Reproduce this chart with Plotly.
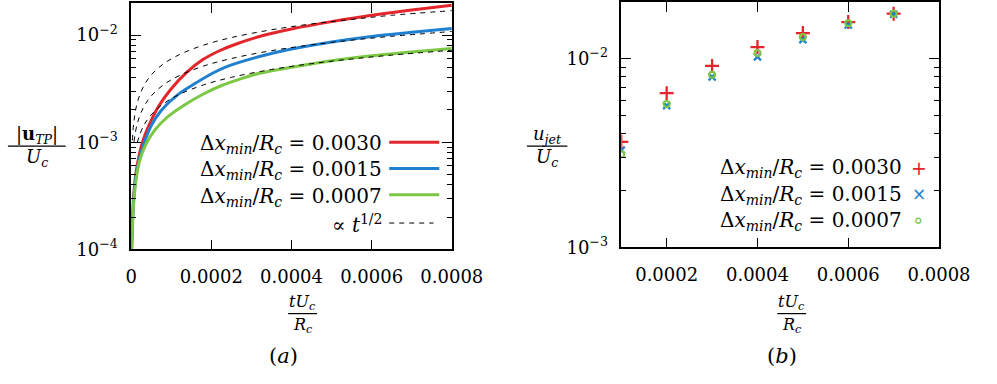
import plotly.graph_objects as go
from plotly.subplots import make_subplots

# ---- panel (a): |u_TP|/U_c vs tU_c/R_c ----
t_red = [1e-6, 3e-6, 6e-6, 1.2e-5, 2.0e-5, 3.0e-5, 4.3e-5, 6.7e-5, 9.9e-5, 1.39e-4,
         1.79e-4, 2.19e-4, 2.64e-4, 3.2e-4, 4.0e-4, 5.0e-4, 6.0e-4, 7.0e-4, 8.0e-4]
u_red = [1.0e-4, 1.8e-4, 3.0e-4, 5.2e-4, 7.6e-4, 1.05e-3, 1.40e-3, 2.12e-3, 3.12e-3, 4.5e-3,
         5.9e-3, 7.1e-3, 8.3e-3, 9.7e-3, 1.14e-2, 1.335e-2, 1.53e-2, 1.71e-2, 1.90e-2]

t_blue = [1e-6, 3e-6, 6e-6, 1.2e-5, 2.0e-5, 2.7e-5, 5.1e-5, 7.5e-5, 1.15e-4, 1.55e-4,
          2.03e-4, 2.4e-4, 3.2e-4, 4.0e-4, 5.0e-4, 6.0e-4, 7.0e-4, 8.0e-4]
u_blue = [1.0e-4, 1.7e-4, 2.8e-4, 4.8e-4, 6.8e-4, 8.6e-4, 1.45e-3, 1.98e-3, 2.75e-3, 3.45e-3,
          4.4e-3, 5.1e-3, 6.3e-3, 7.4e-3, 8.6e-3, 9.7e-3, 1.06e-2, 1.15e-2]

t_green = [1e-6, 3e-6, 6e-6, 1.2e-5, 2.0e-5, 3.5e-5, 5.9e-5, 9.1e-5, 1.31e-4, 1.79e-4,
           2.27e-4, 2.64e-4, 3.2e-4, 4.0e-4, 5.0e-4, 6.0e-4, 7.0e-4, 8.0e-4]
u_green = [1.0e-4, 1.6e-4, 2.6e-4, 4.4e-4, 6.5e-4, 9.3e-4, 1.3e-3, 1.72e-3, 2.2e-3, 2.8e-3,
           3.4e-3, 3.8e-3, 4.4e-3, 5.0e-3, 5.75e-3, 6.4e-3, 6.95e-3, 7.5e-3]

# t^(1/2) guide lines
t_fit = [3e-6, 7e-6, 1.5e-5, 3e-5, 5e-5, 8e-5, 1.2e-4, 1.8e-4, 2.5e-4, 3.5e-4, 4.5e-4,
         5.5e-4, 6.5e-4, 8e-4]
fit_red = [1.04e-3, 1.59e-3, 2.32e-3, 3.28e-3, 4.24e-3, 5.36e-3, 6.56e-3, 8.04e-3, 9.47e-3,
           1.12e-2, 1.27e-2, 1.40e-2, 1.53e-2, 1.69e-2]
fit_blue = [None, 1.01e-3, 1.48e-3, 2.09e-3, 2.70e-3, 3.42e-3, 4.18e-3, 5.13e-3, 6.04e-3,
            7.15e-3, 8.10e-3, 8.96e-3, 9.74e-3, 1.08e-2]
fit_green = [None, None, 0.99e-3, 1.40e-3, 1.80e-3, 2.28e-3, 2.79e-3, 3.42e-3, 4.03e-3,
             4.77e-3, 5.41e-3, 5.98e-3, 6.50e-3, 7.21e-3]

# ---- panel (b): u_jet/U_c at sampled times ----
t_jet = [0.0001, 0.0002, 0.0003, 0.0004, 0.0005, 0.0006, 0.0007]
jet_red = [0.00362, 0.00655, 0.00913, 0.01148, 0.01362, 0.01557, 0.01726]
jet_blue = [0.00327, 0.00563, 0.00798, 0.0102, 0.01257, 0.01503, 0.01714]
jet_green = [0.00311, 0.00574, 0.0082, 0.0107, 0.01298, 0.01534, 0.01726]

labels = ["0.0030", "0.0015", "0.0007"]
RED, BLUE, GREEN = "#e3262b", "#2080d0", "#7cc744"
FONT = "DejaVu Serif"
W, H = 997, 384


def px(x):
    return x / W


def py(y):
    return 1 - y / H


fig = make_subplots(rows=1, cols=2)

for t, u, c in [(t_red, u_red, RED), (t_blue, u_blue, BLUE), (t_green, u_green, GREEN)]:
    fig.add_trace(go.Scatter(x=t, y=u, mode="lines", line=dict(color=c, width=3, shape="spline", smoothing=1),
                             showlegend=False), row=1, col=1)
for f in [fit_red, fit_blue, fit_green]:
    fig.add_trace(go.Scatter(x=t_fit, y=f, mode="lines",
                             line=dict(color="black", width=1, dash="5px,5px", shape="spline"),
                             showlegend=False), row=1, col=1)

fig.add_trace(go.Scatter(x=t_jet, y=jet_red, mode="markers", showlegend=False,
                         marker=dict(symbol="cross-thin", size=10, line=dict(color=RED, width=2.3))),
              row=1, col=2)
fig.add_trace(go.Scatter(x=t_jet, y=jet_blue, mode="markers", showlegend=False,
                         marker=dict(symbol="x-thin", size=7, line=dict(color=BLUE, width=2.3))),
              row=1, col=2)
fig.add_trace(go.Scatter(x=t_jet, y=jet_green, mode="markers", showlegend=False,
                         marker=dict(symbol="circle-open", size=6, color=GREEN, line=dict(color=GREEN, width=2))),
              row=1, col=2)

minor_vals = [m * 10 ** e for e in (-4, -3, -2) for m in range(2, 10)]
ax_common = dict(showline=True, linecolor="black", linewidth=1.5, mirror="ticks", ticks="inside",
                 ticklen=10, tickwidth=1.2, tickcolor="black", showgrid=False, zeroline=False,
                 tickfont=dict(family=FONT, size=18, color="black"))

fig.update_xaxes(**ax_common, ticklabelstandoff=10)
fig.update_yaxes(**ax_common, ticklabelstandoff=8)
fig.update_yaxes(type="log", minor=dict(ticks="inside", ticklen=5, tickcolor="black", tickvals=minor_vals))

fig.update_layout(
    width=W, height=H, margin=dict(l=0, r=0, t=0, b=0),
    plot_bgcolor="white", paper_bgcolor="white", showlegend=False,
    xaxis=dict(domain=[px(130), px(463)], range=[0, 0.0008],
               tickvals=[0, 0.0002, 0.0004, 0.0006, 0.0008],
               ticktext=["0", "0.0002", "0.0004", "0.0006", "0.0008"]),
    yaxis=dict(domain=[py(256), py(3)], range=[-4, -1.7],
               tickvals=[1e-4, 1e-3, 1e-2], ticktext=["10<sup>−4</sup>", "10<sup>−3</sup>", "10<sup>−2</sup>"]),
    xaxis2=dict(domain=[px(639), px(969)], range=[0.0001, 0.0008],
                tickvals=[0.0002, 0.0004, 0.0006, 0.0008],
                ticktext=["0.0002", "0.0004", "0.0006", "0.0008"]),
    yaxis2=dict(domain=[py(254), py(2)], range=[-3, -1.701],
                tickvals=[1e-3, 1e-2], ticktext=["10<sup>−3</sup>", "10<sup>−2</sup>"]),
)

ann = []
shapes = []


def text(x, y, s, size=18, anchor="center"):
    ann.append(dict(x=px(x), y=py(y), xref="paper", yref="paper", text=s, showarrow=False,
                    xanchor=anchor, yanchor="middle", font=dict(family=FONT, size=size, color="black")))


def frac(xc, yline, num, den, half, size=18):
    text(xc, yline - 11, num, size)
    text(xc, yline + 12, den, size)
    shapes.append(dict(type="line", xref="paper", yref="paper", x0=px(xc - half), x1=px(xc + half),
                       y0=py(yline), y1=py(yline), line=dict(color="black", width=1.2)))


Uc = "<i>U</i><sub><i>c</i></sub>"
frac(32, 150, "|<b>u</b><sub><i>TP</i></sub>|", Uc, 30)
frac(562, 150, "<i>u</i><sub><i>jet</i></sub>", Uc, 21)
frac(308, 322, "<i>tU</i><sub><i>c</i></sub>", "<i>R</i><sub><i>c</i></sub>", 15, 16)
frac(816, 322, "<i>tU</i><sub><i>c</i></sub>", "<i>R</i><sub><i>c</i></sub>", 15, 16)
text(288, 366, "(<i>a</i>)", 21)
text(806, 366, "(<i>b</i>)", 21)

leg = "Δ<i>x</i><sub><i>min</i></sub>/<i>R</i><sub><i>c</i></sub> = "
for i, (lab, c) in enumerate(zip(labels, [RED, BLUE, GREEN])):
    yy = 146 + 27 * i
    text(393, yy + 2, leg + lab, 20, "right")
    shapes.append(dict(type="line", xref="paper", yref="paper", x0=px(398), x1=px(450),
                       y0=py(yy), y1=py(yy), line=dict(color=c, width=3)))
text(393, 230, "∝ <i>t</i><sup>1/2</sup>", 20, "right")
shapes.append(dict(type="line", xref="paper", yref="paper", x0=px(398), x1=px(444),
                   y0=py(229), y1=py(229), line=dict(color="black", width=1, dash="5px,5px")))

for i, (lab, c) in enumerate(zip(labels, [RED, BLUE, GREEN])):
    yy = 172 + 27 * i
    text(933, yy + 1, leg + lab, 20, "right")
    ann.append(dict(x=px(948), y=py(yy), xref="paper", yref="paper", showarrow=False,
                    text={0: "+", 1: "×", 2: "∘"}[i],
                    font=dict(family="DejaVu Sans", size=[19, 17, 20][i], color=c),
                    xanchor="center", yanchor="middle"))

fig.update_layout(annotations=ann, shapes=shapes)
fig.write_html("out.html", config={"displayModeBar": False},
               post_script="document.body.style.margin='0';")
